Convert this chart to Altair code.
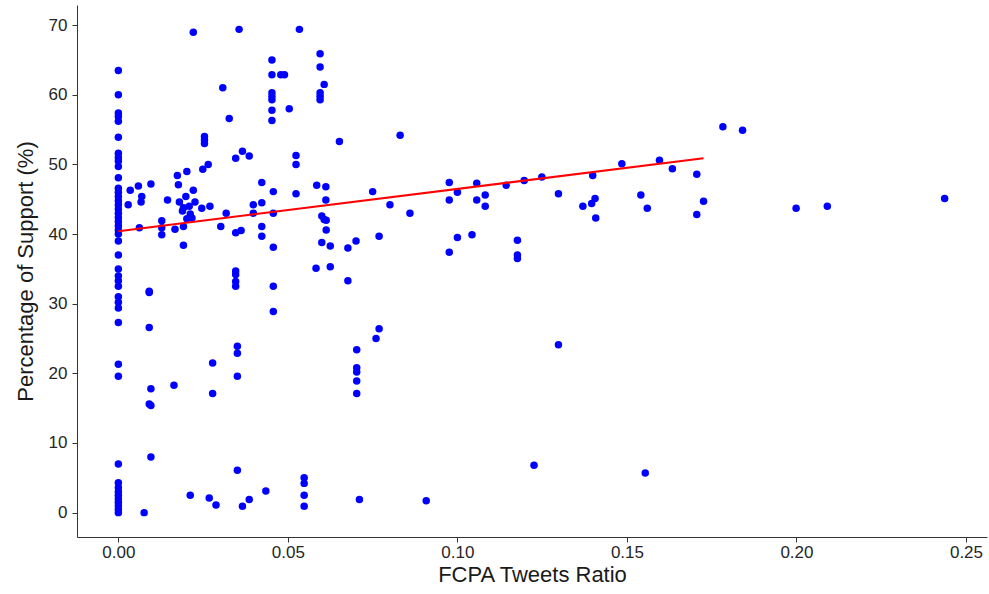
import altair as alt
import pandas as pd

# x = 0 column
zero_y = [63.5, 60.0, 57.4, 56.9, 56.2, 53.9, 51.6, 51.0, 50.5, 49.7, 48.1, 46.6, 46.0, 45.4,
          44.8, 44.2, 43.6, 43.0, 42.4, 41.8, 41.2, 40.6, 40.0, 39.0, 37.0, 35.0, 34.0, 33.3,
          32.5, 31.0, 30.2, 29.4, 27.3, 21.3, 19.6, 7.0, 4.3, 3.6, 3.0, 2.5, 2.0, 1.5, 1.0, 0.5, 0.0]

ratio = [0.0221, 0.0356, 0.0534, 0.0453, 0.0453, 0.0479, 0.0490, 0.0453, 0.0453, 0.0453,
         0.0453, 0.0453, 0.0504, 0.0308, 0.0327, 0.0254, 0.0254, 0.0254, 0.0346, 0.0366,
         0.0386, 0.0249, 0.0265, 0.0524, 0.0524, 0.0524, 0.0585, 0.0612, 0.0612, 0.0174,
         0.0177, 0.0202, 0.0035, 0.0059, 0.0069, 0.0067, 0.0096, 0.0029, 0.0145,
         0.0199, 0.0221, 0.0180, 0.0192, 0.0209, 0.0226, 0.0189, 0.0212, 0.0202, 0.0217,
         0.0270, 0.0246,
         0.0318, 0.0302, 0.0346, 0.0362, 0.0398, 0.0398, 0.0423, 0.0423, 0.0423, 0.0423,
         0.0457, 0.0457, 0.0457, 0.0192, 0.0192, 0.0128, 0.0128, 0.0128, 0.0167, 0.0062,
         0.0595, 0.0595, 0.0607, 0.0595, 0.0595, 0.0595, 0.0652, 0.0831, 0.0600, 0.0607,
         0.0613, 0.0613, 0.0600, 0.0625, 0.0677, 0.0701, 0.0583, 0.0625, 0.0677, 0.0750,
         0.0801, 0.0860, 0.0769, 0.0976, 0.0976, 0.1000, 0.1057, 0.1057, 0.1082, 0.1082,
         0.1144, 0.1197, 0.1249, 0.1298, 0.1399, 0.1370, 0.1396, 0.1406, 0.1408, 0.1485,
         0.1541, 0.1560, 0.1596, 0.1634, 0.1706, 0.1726, 0.1706, 0.1783, 0.1841, 0.1999,
         0.2091, 0.2437, 0.0976, 0.1000, 0.1043, 0.1177, 0.1177, 0.1177, 0.0769, 0.0760,
         0.0703, 0.0703, 0.0703, 0.0703, 0.0703, 0.1298, 0.0548, 0.0548, 0.0548, 0.0548,
         0.0711, 0.0908, 0.1226, 0.1554, 0.0091, 0.0091, 0.0091, 0.0096, 0.0091, 0.0096,
         0.0164, 0.0278, 0.0278, 0.0346, 0.0346, 0.0346, 0.0346, 0.0351, 0.0351, 0.0351,
         0.0351, 0.0457, 0.0457, 0.0096, 0.0076, 0.0212, 0.0268, 0.0288, 0.0366, 0.0386,
         0.0435]

support = [69.0, 69.4, 69.4, 65.0, 62.9, 62.9, 62.9, 60.3, 59.8, 59.3,
           57.8, 56.3, 58.0, 61.0, 56.6, 54.0, 53.5, 53.0, 50.9, 51.9,
           51.2, 49.3, 50.0, 51.3, 50.0, 45.8, 47.0, 46.8, 44.9, 48.4,
           47.1, 49.0, 46.3, 46.9, 45.4, 44.6, 47.2, 44.2, 44.9,
           45.4, 46.3, 44.6, 43.8, 44.0, 44.6, 43.3, 42.9, 42.2, 42.3,
           44.0, 43.7,
           43.0, 41.1, 40.2, 40.5, 44.2, 43.0, 44.5, 47.4, 41.1, 39.7,
           46.1, 43.0, 38.1, 41.1, 38.4, 41.9, 40.9, 39.9, 40.7, 40.9,
           65.9, 64.0, 61.5, 60.3, 59.8, 59.3, 53.3, 54.2, 42.6, 42.1,
           42.0, 40.6, 38.8, 38.3, 38.0, 39.0, 35.1, 35.3, 33.3, 46.1,
           44.2, 43.0, 39.7, 47.4, 44.9, 46.0, 47.3, 44.9, 45.6, 44.0,
           47.0, 47.7, 48.2, 45.8, 48.4, 44.0, 44.4, 45.1, 42.3, 50.1,
           45.6, 43.7, 50.6, 49.4, 48.6, 44.7, 42.8, 55.4, 54.9, 43.7,
           44.0, 45.1, 37.4, 39.5, 39.9, 39.1, 37.0, 36.5, 26.4, 25.0,
           23.4, 20.8, 20.2, 18.9, 17.1, 24.1, 5.0, 4.2, 2.5, 0.9,
           1.9, 1.7, 6.8, 5.7, 31.8, 31.6, 26.6, 17.8, 15.6, 15.4,
           18.3, 21.5, 17.1, 34.7, 34.2, 33.2, 32.5, 23.9, 22.9, 19.6,
           6.1, 32.5, 28.9, 8.0, 0.0, 2.5, 2.1, 1.1, 0.9, 1.9,
           3.1]

line_x = [0.0, 0.1726]
line_y = [40.4, 50.9]

x_ticks = [0.0, 0.05, 0.10, 0.15, 0.20, 0.25]
y_ticks = [0, 10, 20, 30, 40, 50, 60, 70]

pts = pd.DataFrame({
    "ratio": [0.0] * len(zero_y) + ratio,
    "support": zero_y + support,
})
fit = pd.DataFrame({"ratio": line_x, "support": line_y})

xscale = alt.Scale(domain=[-0.0122, 0.2562], nice=False, zero=False)
yscale = alt.Scale(domain=[-3.5, 72.9], nice=False, zero=False)

common = dict(grid=False, titleFontWeight="normal", labelColor="#262626", titleColor="#1a1a1a",
              domainColor="#333", tickColor="#333", tickSize=5,
              labelFont="Liberation Sans", titleFont="Liberation Sans")

xaxis = alt.Axis(values=x_ticks, format=".2f", title="FCPA Tweets Ratio",
                 labelFontSize=17, titleFontSize=22, labelPadding=2, titlePadding=4, **common)
yaxis = alt.Axis(values=y_ticks, title="Percentage of Support (%)",
                 labelFontSize=17, titleFontSize=22, labelPadding=5, titlePadding=11, **common)

points = alt.Chart(pts).mark_circle(size=56, color="#0000ff", opacity=1).encode(
    x=alt.X("ratio:Q", scale=xscale, axis=xaxis),
    y=alt.Y("support:Q", scale=yscale, axis=yaxis),
)
line = alt.Chart(fit).mark_line(color="#ff0000", strokeWidth=2).encode(
    x=alt.X("ratio:Q", scale=xscale),
    y=alt.Y("support:Q", scale=yscale),
)

chart = alt.layer(points, line).properties(
    width=910, height=532,
    autosize=alt.AutoSizeParams(type="none"),
    padding={"left": 77, "top": 5, "right": 2, "bottom": 57},
    background="white",
).configure_view(stroke=None)

chart.save("out.html", embed_options={"renderer": "svg", "actions": False})
